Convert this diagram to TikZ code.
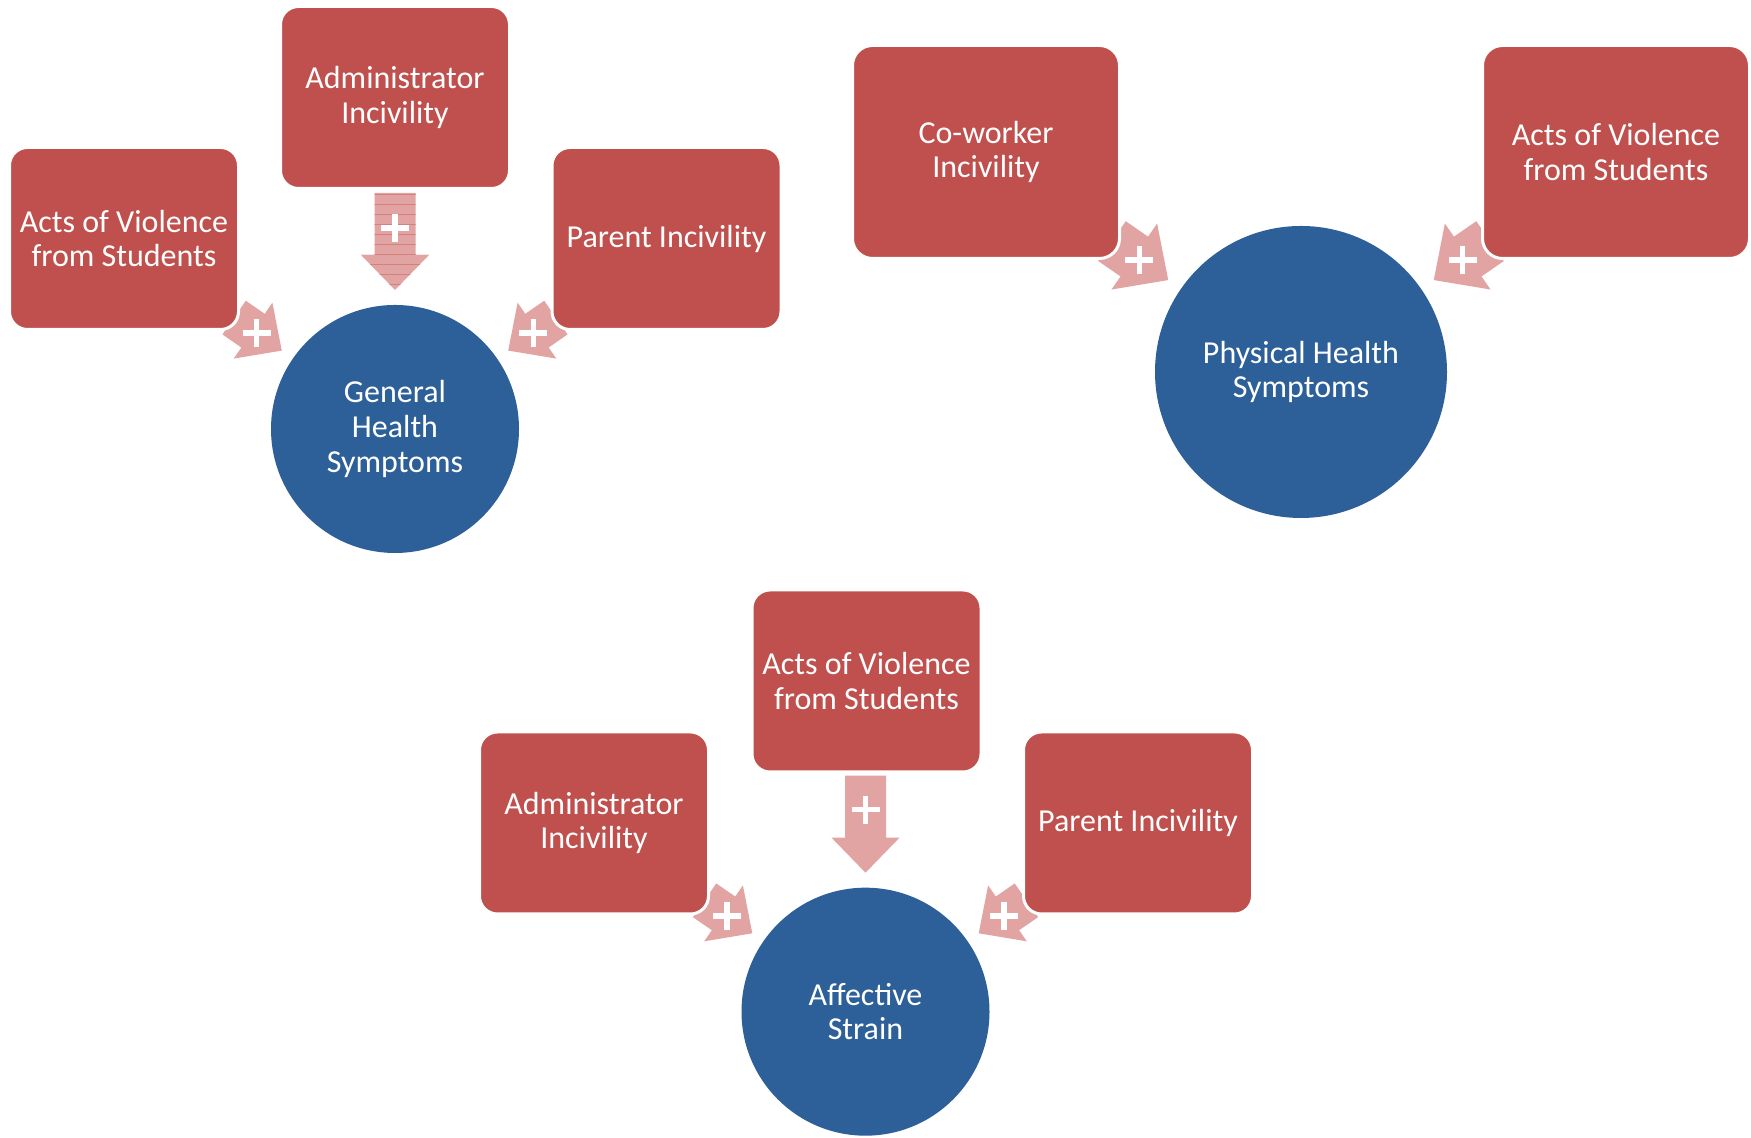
\documentclass[tikz,border=0pt]{standalone}
\usepackage{fontspec}
\setmainfont{Carlito}
\usetikzlibrary{calc}

\definecolor{boxred}{RGB}{192,80,77}
\definecolor{circblue}{RGB}{45,95,153}
\definecolor{arrowpink}{RGB}{226,164,163}
\definecolor{stripered}{RGB}{212,128,126}

% block arrow outline: tip at #1, travel direction #2, total length #3, scale #4
\newcommand\arrowoutline[4]{[shift={(#1)}, rotate=#2, scale=#4]
  (0,0) -- (-35,34) -- (-35,20.5) -- (-#3,20.5) -- (-#3,-20.5) -- (-35,-20.5) -- (-35,-34) -- cycle}

\tikzset{
  labeltext/.style={text=white, align=center, font=\fontsize{16}{17.3}\selectfont},
  factor/.style={labeltext, rectangle, rounded corners=9pt, fill=boxred, draw=white,
    line width=1.5pt, minimum width=114.5pt, minimum height=91pt, inner sep=0pt},
  bigfactor/.style={factor, rounded corners=10pt, minimum width=133.5pt, minimum height=106.5pt},
  outcome/.style={labeltext, circle, fill=circblue, draw=none, inner sep=0pt, minimum size=124pt},
  bigoutcome/.style={outcome, minimum size=146pt},
  arrowfill/.style={fill=arrowpink, draw=none},
  plussign/.style={draw=white, line width=2.75pt},
}

\begin{document}
\begin{tikzpicture}[x=0.5pt, y=0.5pt]
\useasboundingbox (0,0) rectangle (1751,1138);
\fill[white] (0,0) rectangle (1751,1138);

% outcome circles
\node[outcome] (gen) at (395,709) {General\\Health\\Symptoms};
\node[bigoutcome] (phys) at (1301,766) {Physical Health\\Symptoms};
\node[outcome] (aff) at (865.5,126.3) {Affective\\Strain};

% arrow tips and plus positions
\coordinate (g1d) at ($(gen.center)+(90:139)$);
\coordinate (g1l) at ($(gen.center)+(145.3:137.7)$);
\coordinate (g1r) at ($(gen.center)+(34.7:137.7)$);
\coordinate (g1dp) at ($(gen.center)+(90:201)$);
\coordinate (g1lp) at ($(gen.center)+(145.3:168.2)$);
\coordinate (g1rp) at ($(gen.center)+(34.7:168.2)$);

\coordinate (g2l) at ($(phys.center)+(145.3:161.5)$);
\coordinate (g2r) at ($(phys.center)+(34.7:161.5)$);
\coordinate (g2lp) at ($(phys.center)+(145.3:196.5)$);
\coordinate (g2rp) at ($(phys.center)+(34.7:196.5)$);

\coordinate (g3d) at ($(aff.center)+(90:139)$);
\coordinate (g3l) at ($(aff.center)+(145.3:137.7)$);
\coordinate (g3r) at ($(aff.center)+(34.7:137.7)$);
\coordinate (g3dp) at ($(aff.center)+(90:202)$);
\coordinate (g3lp) at ($(aff.center)+(145.3:168.2)$);
\coordinate (g3rp) at ($(aff.center)+(34.7:168.2)$);

% block arrows
\fill[arrowfill] \arrowoutline{g1d}{-90}{97}{1};
\begin{scope}
  \clip \arrowoutline{g1d}{-90}{97}{1};
  \foreach \yy in {0,10,...,90}
    \draw[stripered, line width=0.45pt] ($(g1d)+(-40,\yy+6)$) -- ++(80,0);
\end{scope}
\fill[arrowfill] \arrowoutline{g1l}{-34.7}{58}{1};
\fill[arrowfill] \arrowoutline{g1r}{-145.3}{58}{1};

\fill[arrowfill] \arrowoutline{g2l}{-34.7}{58}{1.18};
\fill[arrowfill] \arrowoutline{g2r}{-145.3}{58}{1.18};

\fill[arrowfill] \arrowoutline{g3d}{-90}{97}{1};
\fill[arrowfill] \arrowoutline{g3l}{-34.7}{58}{1};
\fill[arrowfill] \arrowoutline{g3r}{-145.3}{58}{1};

% plus signs
\foreach \p in {g1dp,g1lp,g1rp,g2lp,g2rp,g3dp,g3lp,g3rp}
  \draw[plussign, shift={(\p)}] (-14,0) -- (14,0) (0,-14) -- (0,14);

% stressor boxes
\node[factor] (adm1) at (395,1040.5) {Administrator\\Incivility};
\node[factor] (avs1) at (124,899.5) {Acts of Violence\\from Students};
\node[factor] (par1) at (666.5,899.5) {Parent Incivility};

\node[bigfactor] (cow) at (986,986) {Co-worker\\Incivility};
\node[bigfactor] (avs2) at (1616,986) {Acts of Violence\\from Students};

\node[factor] (avs3) at (866.5,457) {Acts of Violence\\from Students};
\node[factor] (adm3) at (594,315) {Administrator\\Incivility};
\node[factor] (par3) at (1138,315) {Parent Incivility};
\end{tikzpicture}
\end{document}
